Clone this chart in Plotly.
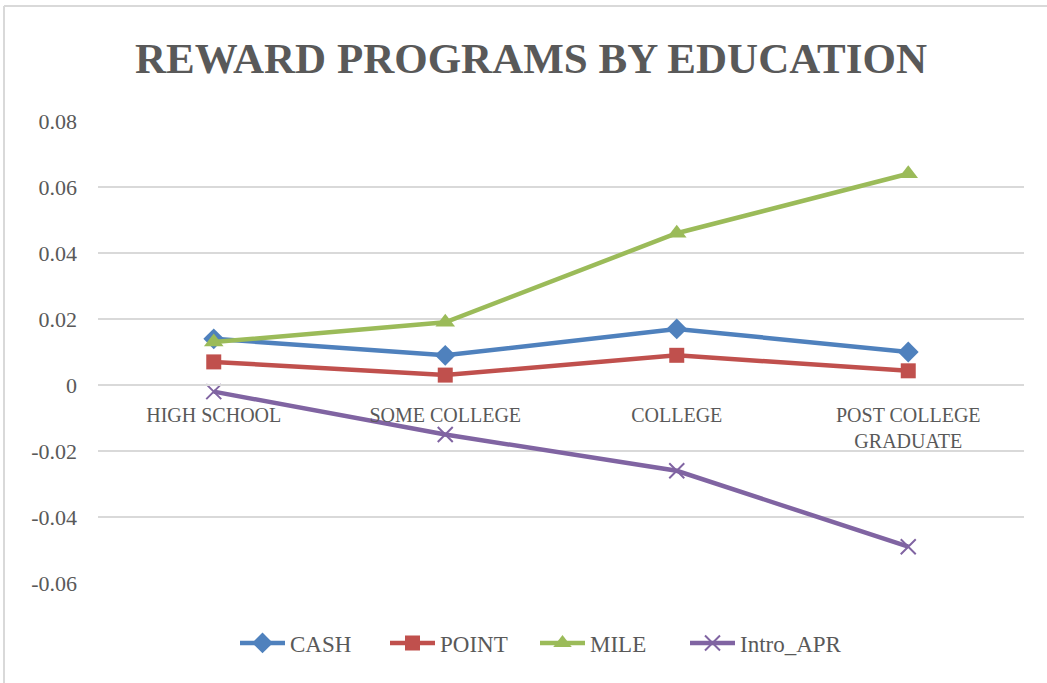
import plotly.graph_objects as go

categories = ["HIGH SCHOOL", "SOME COLLEGE", "COLLEGE", "POST COLLEGE<br>GRADUATE"]
cash = [0.014, 0.009, 0.017, 0.010]
point = [0.007, 0.003, 0.009, 0.0043]
mile = [0.013, 0.019, 0.046, 0.064]
intro_apr = [-0.002, -0.015, -0.026, -0.049]
y_tick_vals = [-0.06, -0.04, -0.02, 0, 0.02, 0.04, 0.06, 0.08]
y_tick_text = ["-0.06", "-0.04", "-0.02", "0", "0.02", "0.04", "0.06", "0.08"]

W, H = 1047, 683
L, R, T, B = 98, 23, 121, 100
pw, ph = W - L - R, H - T - B

def px_x(px):
    return (px - L) / pw

def px_y(py):
    return (H - B - py) / ph

series = [
    ("CASH", cash, "#4F81BD", dict(symbol="diamond", size=16), 90),
    ("POINT", point, "#C0504D", dict(symbol="square", size=15), 90),
    ("MILE", mile, "#9BBB59", dict(symbol="triangle-up", size=17), 90),
    ("Intro_APR", intro_apr, "#8064A2", dict(symbol="x-thin-open", size=15,
                                              line=dict(width=2, color="#8064A2")), 140),
]

fig = go.Figure()
for name, vals, color, marker, lw in series:
    m = dict(color=color, **marker)
    fig.add_trace(go.Scatter(
        x=categories, y=vals, name=name, mode="lines+markers",
        line=dict(color=color, width=4.5), marker=m, legendwidth=lw,
    ))

font_family = "Liberation Serif"
fig.update_layout(
    width=W, height=H,
    margin=dict(l=L, r=R, t=T, b=B, autoexpand=False),
    paper_bgcolor="white", plot_bgcolor="white",
    title=dict(text="<b>REWARD PROGRAMS BY EDUCATION</b>", x=531 / W, xanchor="center",
               y=1 - 58 / H, yanchor="middle",
               font=dict(family=font_family, size=43, color="#595959")),
    font=dict(family=font_family, color="#595959"),
    showlegend=True,
    legend=dict(orientation="h", x=px_x(235), xanchor="left", y=px_y(643), yanchor="middle",
                font=dict(size=23, color="#595959"), itemwidth=45,
                tracegroupgap=0),
    xaxis=dict(
        type="category", showgrid=False, zeroline=False,
        showline=True, linecolor="#D9D9D9", linewidth=1.5,
        anchor="free", position=0.06 / 0.14,
        ticks="", ticklabelstandoff=12,
        tickfont=dict(size=20, color="#595959", family=font_family),
        range=[-0.5, 3.5],
    ),
    yaxis=dict(
        range=[-0.06, 0.08], tickvals=y_tick_vals, ticktext=y_tick_text,
        showgrid=True, gridcolor="#D9D9D9", gridwidth=1.5,
        zeroline=False, showline=False, ticks="", ticklabelstandoff=20,
        tickfont=dict(size=22, color="#595959", family=font_family),
    ),
    shapes=[
        dict(type="line", xref="paper", yref="paper", x0=px_x(4), x1=px_x(W + 5),
             y0=px_y(6), y1=px_y(6), line=dict(color="#D9D9D9", width=2)),
        dict(type="line", xref="paper", yref="paper", x0=px_x(4), x1=px_x(4),
             y0=px_y(6), y1=px_y(H + 5), line=dict(color="#D9D9D9", width=2)),
    ],
)

fig.write_html("out.html", config={"displayModeBar": False},
               post_script="document.body.style.margin='0';document.body.style.overflow='hidden';")
